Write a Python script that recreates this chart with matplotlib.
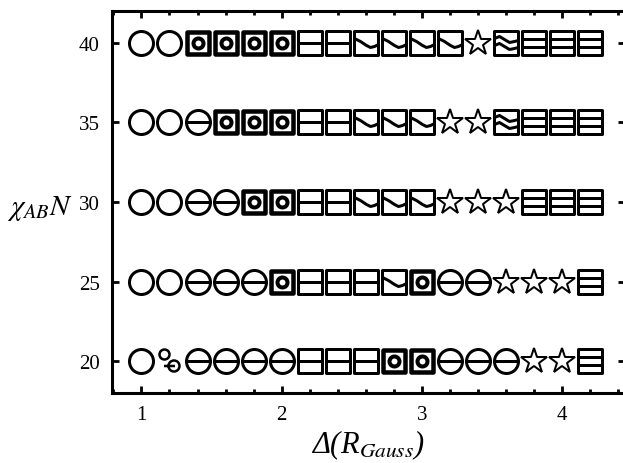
import numpy as np
import matplotlib.pyplot as plt
from matplotlib.path import Path
from matplotlib.markers import MarkerStyle
from matplotlib.ticker import MultipleLocator

plt.rcParams['font.family'] = 'Liberation Serif'
plt.rcParams['mathtext.fontset'] = 'stix'

# data: phase observed at each (Delta, chi_AB N)
delta = [1.0, 1.2, 1.4, 1.6, 1.8, 2.0, 2.2, 2.4, 2.6, 2.8, 3.0, 3.2, 3.4, 3.6, 3.8, 4.0, 4.2]
chiN = [20, 25, 30, 35, 40]
phase_20 = ['O', 'C2', 'T', 'T', 'T', 'T', 'H', 'H', 'H', 'BD', 'BD', 'T', 'T', 'T', 'S', 'S', 'E']
phase_25 = ['O', 'O', 'T', 'T', 'T', 'BD', 'H', 'H', 'H', 'W', 'BD', 'T', 'T', 'S', 'S', 'S', 'E']
phase_30 = ['O', 'O', 'T', 'T', 'BD', 'BD', 'H', 'H', 'W', 'W', 'W', 'S', 'S', 'S', 'E', 'E', 'E']
phase_35 = ['O', 'O', 'T', 'BD', 'BD', 'BD', 'H', 'H', 'W', 'W', 'W', 'S', 'S', 'DW', 'E', 'E', 'E']
phase_40 = ['O', 'O', 'BD', 'BD', 'BD', 'BD', 'H', 'H', 'W', 'W', 'W', 'W', 'S', 'DW', 'E', 'E', 'E']
phases = [phase_20, phase_25, phase_30, phase_35, phase_40]

DPI = 100
PX = 72 / DPI
M, L, C4, CL = Path.MOVETO, Path.LINETO, Path.CURVE4, Path.CLOSEPOLY


# marker pieces, in pixel units
def square(h):
    return Path([(-h, -h), (h, -h), (h, h), (-h, h), (-h, -h)], [M, L, L, L, CL])


def hline(y, h):
    return Path([(-h, y), (h, y)], [M, L])


def circle(cx, cy, r):
    c = Path.unit_circle()
    return Path(c.vertices * r + [cx, cy], c.codes)


def poly(pts):
    return Path(pts, [M] + [L] * (len(pts) - 1))


def comp(*p):
    return Path.make_compound_path(*p)


H = 12
styles = {
    'O': [(circle(0, 0, 12), 3, 'none')],
    'T': [(comp(circle(0, 0, 12), hline(0, 12)), 3, 'none')],
    'H': [(comp(square(H), hline(0, H)), 3, 'none')],
    'E': [(comp(square(H), hline(4, H), hline(-4, H)), 3, 'none')],
    'W': [(comp(square(H), poly([(-H, 5), (-6, 2), (0, -2), (4, -4), (8, -3), (H, -1)])),
           3, 'none')],
    'DW': [(comp(square(H), poly([(-H, 5), (-7, 7), (-2, 4), (3, 1), (8, 2), (H, 3)]),
                 poly([(-H, -2), (-7, 0), (-2, -3), (3, -6), (8, -5), (H, -4)])), 3, 'none')],
    'BD': [(square(11.5), 4.5, 'none'), (circle(0, 0, 5), 4, 'white')],
    'C2': [(comp(circle(-5, 7, 5), circle(4.5, -4.5, 5.5), hline(-4.5, 5.5)), 2.5, 'none')],
}

fig = plt.figure(figsize=(6.23, 4.64), dpi=DPI)
ax = fig.add_axes([112 / 623, 70 / 464, 513 / 623, 382 / 464])

for chi, row in zip(chiN, phases):
    for key in ['O', 'T', 'H', 'E', 'W', 'DW', 'BD', 'C2', 'S']:
        xs = [d for d, p in zip(delta, row) if p == key]
        if not xs:
            continue
        ys = [chi] * len(xs)
        if key == 'S':
            ax.plot(xs, ys, ls='none', marker='*', ms=26.5 * PX, mfc='white',
                    mec='k', mew=2 * PX)
            continue
        for path, lw, fc in styles[key]:
            ext = np.abs(path.vertices).max()
            ax.plot(xs, ys, ls='none', marker=MarkerStyle(path, joinstyle='miter'),
                    ms=2 * ext * PX, mfc=fc, mec='k', mew=lw * PX)

ax.set_xlim(0.79, 4.45)
ax.set_ylim(18, 42)
ax.set_xticks([1, 2, 3, 4])
ax.xaxis.set_minor_locator(MultipleLocator(0.2))
ax.set_yticks([20, 25, 30, 35, 40])
for s in ax.spines.values():
    s.set_linewidth(2.2)
ax.tick_params(which='major', direction='in', length=5, width=2, labelsize=15, pad=9,
               top=True, right=True)
ax.tick_params(which='minor', direction='in', length=3, width=2, top=True)

ax.set_xlabel(r'Δ(R$_{Gauss}$)', fontsize=22, style='italic', labelpad=2)
ax.set_ylabel(r'$\chi_{AB}N$', fontsize=21, rotation=0, ha='center', va='center')
ax.yaxis.set_label_coords(-0.14, 0.485)

fig.savefig('out.png', dpi=DPI)
